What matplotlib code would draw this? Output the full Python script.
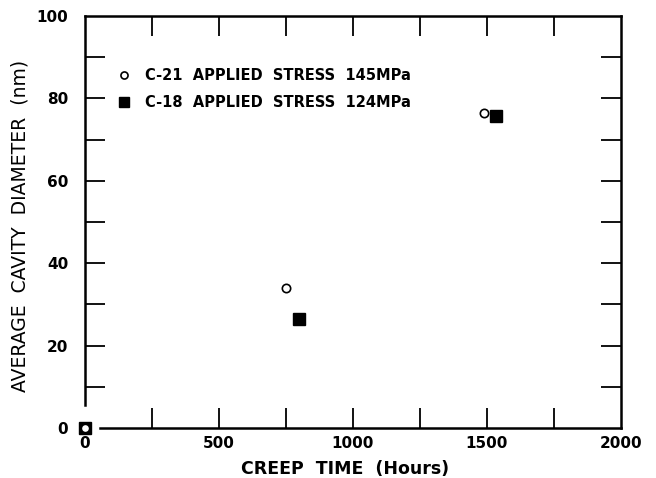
import matplotlib
matplotlib.use("Agg")
import matplotlib.pyplot as plt
from matplotlib.ticker import MultipleLocator

# creep data
c21_hours = [0, 750, 1490]
c21_diam = [0, 34, 76.5]
c18_hours = [0, 800, 1535]
c18_diam = [0, 26.5, 75.7]

c21_label = "C-21  APPLIED  STRESS  145MPa"
c18_label = "C-18  APPLIED  STRESS  124MPa"

plt.rcParams['font.family'] = ['DejaVu Sans']

fig = plt.figure(figsize=(6.56, 4.78), dpi=100)
ax = fig.add_axes([85/656, 1 - 428/478, 536/656, 412/478])

ax.plot(c18_hours, c18_diam, 's', ms=8.5, mfc='black', mec='black',
        ls='none', clip_on=False, zorder=3, label=c18_label)
ax.plot(c21_hours, c21_diam, 'o', ms=6, mfc='white', mec='black', mew=1.2,
        ls='none', clip_on=False, zorder=4, label=c21_label)

ax.set_xlim(0, 2000)
ax.set_ylim(0, 100)

# spines: left and bottom stop short of the origin
for s in ax.spines.values():
    s.set_linewidth(1.8)
ax.spines['left'].set_bounds(5.5, 100)
ax.spines['bottom'].set_bounds(55, 2000)

# labels on majors (no tick mark), marks drawn as minors
ax.xaxis.set_major_locator(MultipleLocator(500))
ax.xaxis.set_minor_locator(MultipleLocator(250))
ax.yaxis.set_major_locator(MultipleLocator(20))
ax.yaxis.set_minor_locator(MultipleLocator(10))
ax.xaxis.remove_overlapping_locs = False
ax.yaxis.remove_overlapping_locs = False

ax.tick_params(which='major', length=0, labelsize=11, width=0)
ax.tick_params(axis='y', which='major', pad=12)
ax.tick_params(axis='x', which='major', pad=6)
ax.tick_params(which='minor', direction='in', length=14.5, width=1.3,
               top=True, right=True)
for lab in ax.get_xticklabels() + ax.get_yticklabels():
    lab.set_fontweight('bold')

# hide minor marks that land on the corners / origin
xm = ax.xaxis.get_minor_ticks()
for t, v in zip(xm, ax.xaxis.get_minorticklocs()):
    if v <= 0 or v >= 2000:
        t.tick1line.set_visible(False)
        t.tick2line.set_visible(False)
ym = ax.yaxis.get_minor_ticks()
for t, v in zip(ym, ax.yaxis.get_minorticklocs()):
    if v <= 0 or v >= 100:
        t.tick1line.set_visible(False)
        t.tick2line.set_visible(False)

ax.set_xlabel("CREEP  TIME  (Hours)", fontsize=12.5, fontweight='bold')
ax.xaxis.set_label_coords(0.485, -0.077)
ax.set_ylabel("AVERAGE  CAVITY  DIAMETER  (nm)", fontsize=13.5)
ax.yaxis.set_label_coords(-0.103, 0.49)

h, l = ax.get_legend_handles_labels()
leg = ax.legend(h[::-1], l[::-1], loc='upper left', bbox_to_anchor=(0.035, 0.905),
                frameon=False, handlelength=1.0, handletextpad=0.9,
                labelspacing=0.8, prop={'size': 10.5, 'weight': 'bold'},
                markerscale=0.85)

fig.savefig("out.png", dpi=100)
